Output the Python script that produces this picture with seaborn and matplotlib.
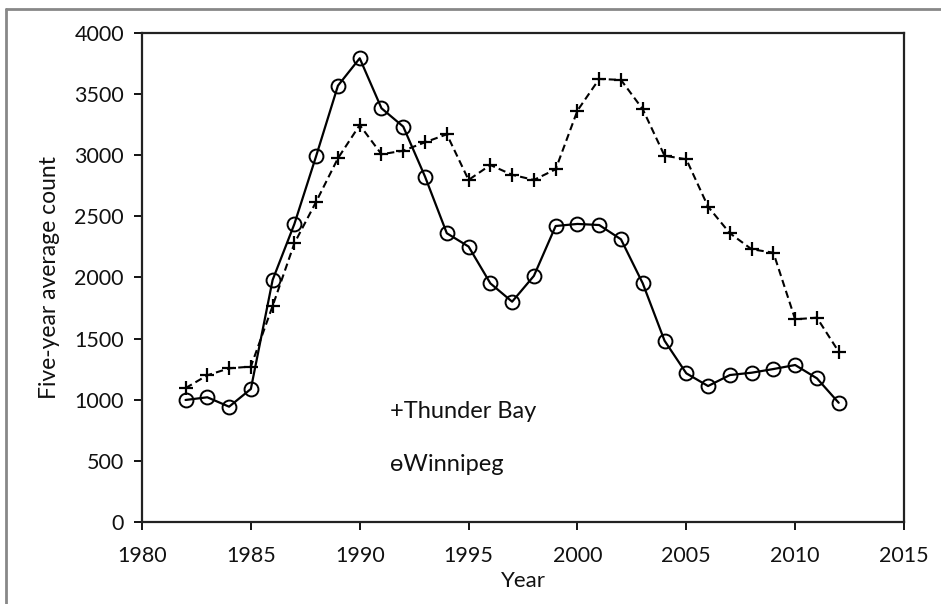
import matplotlib
matplotlib.use("Agg")
import matplotlib.pyplot as plt
import seaborn as sns
import pandas as pd
from matplotlib.lines import Line2D

years = list(range(1982, 2013))
thunder_bay = [1095, 1200, 1257, 1271, 1767, 2280, 2620, 2975, 3247, 3008, 3037, 3106,
               3171, 2798, 2920, 2840, 2798, 2885, 3365, 3624, 3616, 3376, 2996, 2967,
               2579, 2362, 2231, 2203, 1658, 1671, 1393]
winnipeg = [998, 1020, 943, 1088, 1980, 2438, 2994, 3569, 3793, 3384, 3234, 2825,
            2362, 2253, 1952, 1802, 2013, 2421, 2438, 2429, 2312, 1952, 1483, 1216,
            1112, 1202, 1221, 1251, 1284, 1175, 975]
x_ticks = [1980, 1985, 1990, 1995, 2000, 2005, 2010, 2015]
y_ticks = [0, 500, 1000, 1500, 2000, 2500, 3000, 3500, 4000]

sns.set_theme(style="white")
plt.rcParams['font.family'] = ['Lato', 'DejaVu Sans']

df_tb = pd.DataFrame({"Year": years, "count": thunder_bay})
df_wp = pd.DataFrame({"Year": years, "count": winnipeg})

fig = plt.figure(figsize=(9.41, 6.04), dpi=100)
ax = fig.add_axes([0.1509, 0.1358, 0.8098, 0.8096])

sns.lineplot(data=df_tb, x="Year", y="count", ax=ax, color="black", linewidth=1.5,
             linestyle=(0, (3.5, 2)), marker="+", markersize=10, markeredgewidth=1.6,
             markeredgecolor="black")
sns.lineplot(data=df_wp, x="Year", y="count", ax=ax, color="black", linewidth=1.6,
             marker="o", markersize=10, markerfacecolor="none", markeredgewidth=1.4,
             markeredgecolor="black")

ax.set_xlim(1980, 2015)
ax.set_ylim(0, 4000)
ax.set_xticks(x_ticks)
ax.set_yticks(y_ticks)
ax.tick_params(axis="both", direction="out", length=6, width=1.3, color="black",
               labelsize=15.5, labelcolor="#111111", left=True, bottom=True)
ax.tick_params(axis="x", pad=11)
ax.tick_params(axis="y", pad=7)
for s in ax.spines.values():
    s.set_visible(True)
    s.set_color("#222222")
    s.set_linewidth(1.6)

ax.set_xlabel("Year", fontsize=16, color="#111111", labelpad=4)
ax.set_ylabel("Five-year average count", fontsize=16.5, color="#111111", labelpad=10)

ax.text(0.3255, 0.226, "+Thunder Bay", transform=ax.transAxes, fontsize=17,
        color="#111111", va="center", ha="left")
ax.text(0.3255, 0.118, "\u04e9Winnipeg", transform=ax.transAxes, fontsize=17,
        color="#111111", va="center", ha="left")

# outer frame lines (top and left)
fig.add_artist(Line2D([6/941, 1.0], [1 - 9/604, 1 - 9/604], color="#888888", linewidth=2.0))
fig.add_artist(Line2D([6/941, 6/941], [0, 1 - 9/604], color="#888888", linewidth=2.0))

fig.savefig("out.png", dpi=100)
